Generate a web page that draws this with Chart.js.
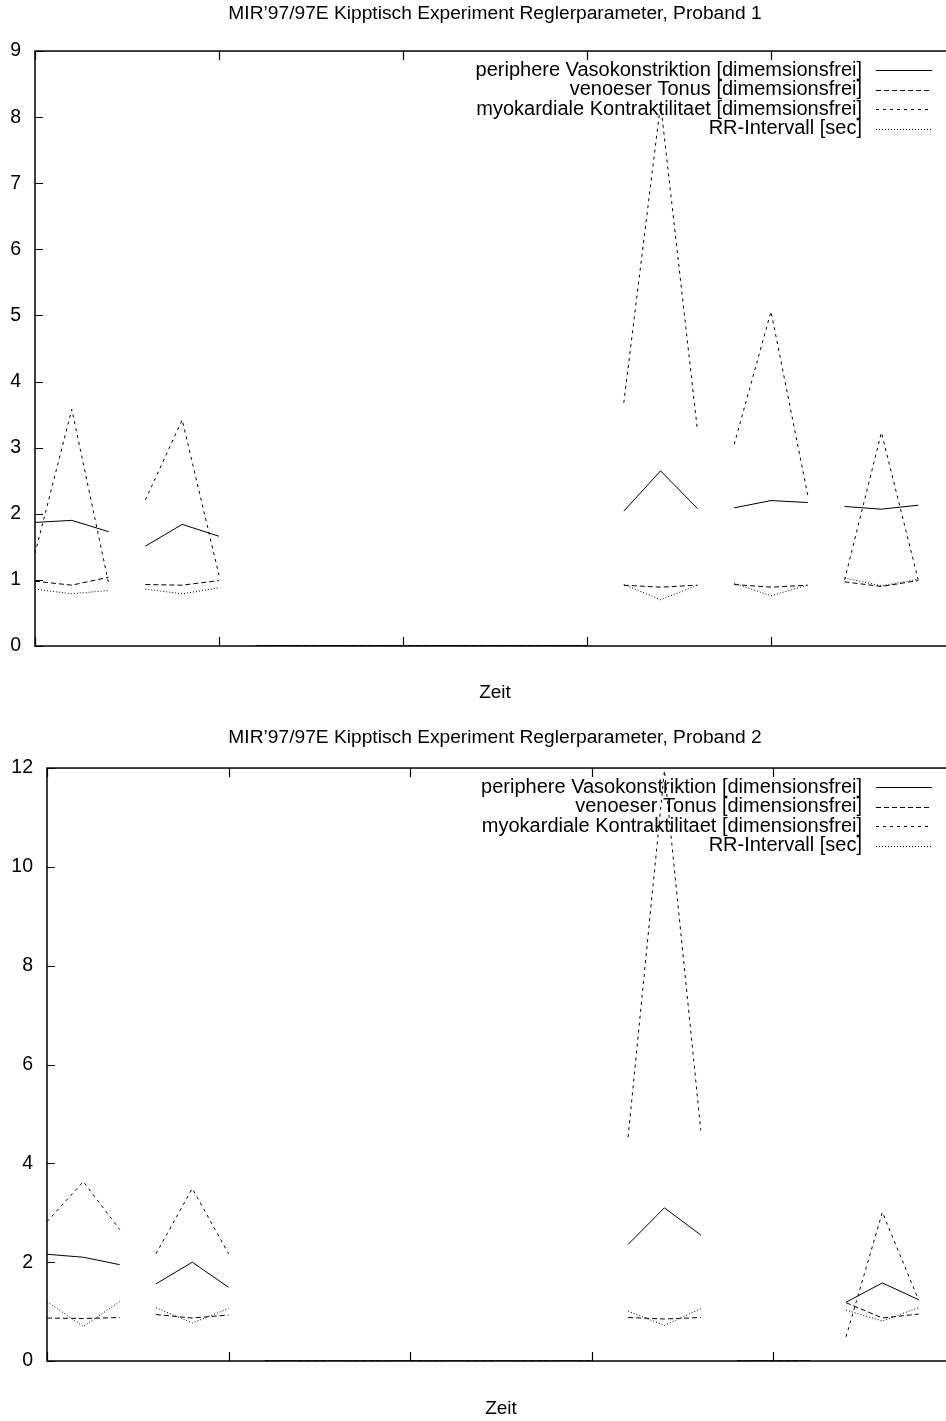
<!DOCTYPE html>
<html>
<head>
<meta charset="utf-8">
<script src="https://cdn.jsdelivr.net/npm/chart.js@4"></script>
<style>
html, body { margin: 0; padding: 0; background: #fff; overflow: hidden; width: 946px; height: 1421px; }
canvas { display: block; }
</style>
</head>
<body>
<canvas id="chart1" width="990" height="710"></canvas>
<canvas id="chart2" width="990" height="711"></canvas>
<script>
// Zeitachse: Messpunkte 0..24
const zeitpunkte = [0, 1, 2, 3, 4, 5, 6, 7, 8, 9, 10, 11, 12, 13, 14, 15, 16, 17, 18, 19, 20, 21, 22, 23, 24];
// nach diesen Punkten ist die Kurve unterbrochen (neuer Block)
const trennstellen = [2, 5, 15, 18, 21];

const titel1 = 'MIR\u201997/97E Kipptisch Experiment Reglerparameter, Proband 1';
const titel2 = 'MIR\u201997/97E Kipptisch Experiment Reglerparameter, Proband 2';
const xTitel = 'Zeit';

const labels1 = [
    'periphere Vasokonstriktion [dimemsionsfrei]',
    'venoeser Tonus [dimemsionsfrei]',
    'myokardiale Kontraktilitaet [dimemsionsfrei]',
    'RR-Intervall [sec]'
];
const labels2 = [
    'periphere Vasokonstriktion [dimensionsfrei]',
    'venoeser Tonus [dimensionsfrei]',
    'myokardiale Kontraktilitaet [dimensionsfrei]',
    'RR-Intervall [sec]'
];

// Proband 1
const vaso1   = [1.87, 1.90, 1.73, 1.51, 1.84, 1.66, 0, 0, 0, 0, 0, 0, 0, 0, 0, 0, 2.04, 2.65, 2.08, 2.09, 2.20, 2.17, 2.11, 2.07, 2.13];
const tonus1  = [0.98, 0.92, 1.04, 0.93, 0.92, 0.99, 0, 0, 0, 0, 0, 0, 0, 0, 0, 0, 0.92, 0.89, 0.92, 0.93, 0.89, 0.92, 0.97, 0.90, 0.99];
const kontr1  = [1.40, 3.58, 0.95, 2.21, 3.42, 1.07, 0, 0, 0, 0, 0, 0, 0, 0, 0, 0, 3.68, 8.20, 3.27, 3.05, 5.06, 2.28, 1.00, 3.23, 1.00];
const rr1     = [0.86, 0.79, 0.84, 0.86, 0.79, 0.88, 0, 0, 0, 0, 0, 0, 0, 0, 0, 0, 0.93, 0.70, 0.92, 0.95, 0.76, 0.92, 1.03, 0.91, 1.01];

// Proband 2
const vaso2   = [2.16, 2.10, 1.95, 1.56, 2.00, 1.49, 0, 0, 0, 0, 0, 0, 0, 0, 0, 0, 2.36, 3.10, 2.55, 0, 0, 0, 1.19, 1.58, 1.24];
const tonus2  = [0.87, 0.86, 0.88, 0.94, 0.87, 0.93, 0, 0, 0, 0, 0, 0, 0, 0, 0, 0, 0.88, 0.85, 0.88, 0, 0, 0, 1.18, 0.87, 0.95];
const kontr2  = [2.82, 3.63, 2.66, 2.17, 3.49, 2.17, 0, 0, 0, 0, 0, 0, 0, 0, 0, 0, 4.53, 11.95, 4.67, 0, 0, 0, 0.49, 3.01, 1.23];
const rr2     = [1.20, 0.70, 1.20, 1.08, 0.77, 1.06, 0, 0, 0, 0, 0, 0, 0, 0, 0, 0, 1.01, 0.72, 1.06, 0, 0, 0, 1.03, 0.81, 1.08];

const linienstile = [[], [5, 3], [3, 4], [1, 2]];
const schrift = '"Liberation Sans", Arial, Helvetica, sans-serif';

// Rahmen, Ticks nach innen und Legende im gnuplot-Stil
const rahmenPlugin = {
    id: 'rahmen',
    afterDatasetsDraw(chart) {
        const ctx = chart.ctx;
        const a = chart.chartArea;
        const x = chart.scales.x;
        const y = chart.scales.y;
        ctx.save();
        ctx.strokeStyle = '#000';
        ctx.lineWidth = 1.5;
        ctx.setLineDash([]);
        ctx.strokeRect(a.left, a.top, a.right - a.left, a.bottom - a.top);

        ctx.lineWidth = 1.2;
        ctx.beginPath();
        x.ticks.forEach(t => {
            const px = Math.round(x.getPixelForValue(t.value)) + 0.5;
            ctx.moveTo(px, a.bottom);
            ctx.lineTo(px, a.bottom - 9);
            ctx.moveTo(px, a.top);
            ctx.lineTo(px, a.top + 9);
        });
        y.ticks.forEach(t => {
            const py = Math.round(y.getPixelForValue(t.value)) + 0.5;
            ctx.moveTo(a.left, py);
            ctx.lineTo(a.left + 8, py);
        });
        ctx.stroke();

        // Legende
        ctx.font = '20px ' + schrift;
        ctx.fillStyle = '#000';
        ctx.textAlign = 'right';
        ctx.textBaseline = 'middle';
        chart.data.datasets.forEach((ds, i) => {
            const zy = a.top + 19 + i * 19.5;
            ctx.fillText(ds.label, 862, zy);
            ctx.beginPath();
            ctx.lineWidth = 1;
            ctx.setLineDash(ds.borderDash);
            ctx.moveTo(876, Math.round(zy) + 0.5);
            ctx.lineTo(932, Math.round(zy) + 0.5);
            ctx.stroke();
        });
        ctx.restore();
    }
};

function baueDiagramm(id, titel, labels, reihen, yMax, yStep, linksBreite, xHoehe, titelPad, xTitelPad) {
    const datasets = reihen.map((werte, i) => ({
        label: labels[i],
        data: werte,
        borderColor: '#000',
        borderWidth: 1,
        borderDash: linienstile[i],
        pointRadius: 0,
        tension: 0,
        fill: false,
        segment: {
            borderColor: c => trennstellen.includes(c.p0DataIndex) ? 'rgba(0,0,0,0)' : undefined
        }
    }));

    return new Chart(document.getElementById(id), {
        type: 'line',
        data: { labels: zeitpunkte, datasets: datasets },
        options: {
            responsive: false,
            animation: false,
            events: [],
            layout: { padding: 0 },
            plugins: {
                legend: { display: false },
                tooltip: { enabled: false },
                title: {
                    display: true,
                    text: titel,
                    color: '#000',
                    font: { family: schrift, size: 19.2, weight: 'normal' },
                    padding: titelPad
                }
            },
            scales: {
                x: {
                    type: 'linear',
                    min: 0,
                    max: 25,
                    ticks: { display: false, stepSize: 5 },
                    grid: { display: false },
                    border: { display: false },
                    title: {
                        display: true,
                        text: xTitel,
                        color: '#000',
                        font: { family: schrift, size: 19 },
                        padding: xTitelPad
                    },
                    afterFit: s => { s.height = xHoehe; }
                },
                y: {
                    min: 0,
                    max: yMax,
                    ticks: {
                        stepSize: yStep,
                        color: '#000',
                        padding: 14,
                        font: { family: schrift, size: 19.5 }
                    },
                    grid: { display: false, drawTicks: false },
                    border: { display: false },
                    afterFit: s => { s.width = linksBreite; }
                },
                // rechter Rand: liegt ausserhalb des Bildes
                yRechts: {
                    position: 'right',
                    min: 0,
                    max: yMax,
                    ticks: { display: false },
                    grid: { display: false, drawTicks: false },
                    border: { display: false },
                    afterFit: s => { s.width = 35; }
                }
            }
        },
        plugins: [rahmenPlugin]
    });
}

baueDiagramm('chart1', titel1, labels1, [vaso1, tonus1, kontr1, rr1], 9, 1, 35, 64,
    { top: 2, bottom: 26 }, { top: 0, bottom: 6 });
baueDiagramm('chart2', titel2, labels2, [vaso2, tonus2, kontr2, rr2], 12, 2, 47, 60,
    { top: 16, bottom: 19 }, { top: 0, bottom: 1 });
</script>
</body>
</html>
